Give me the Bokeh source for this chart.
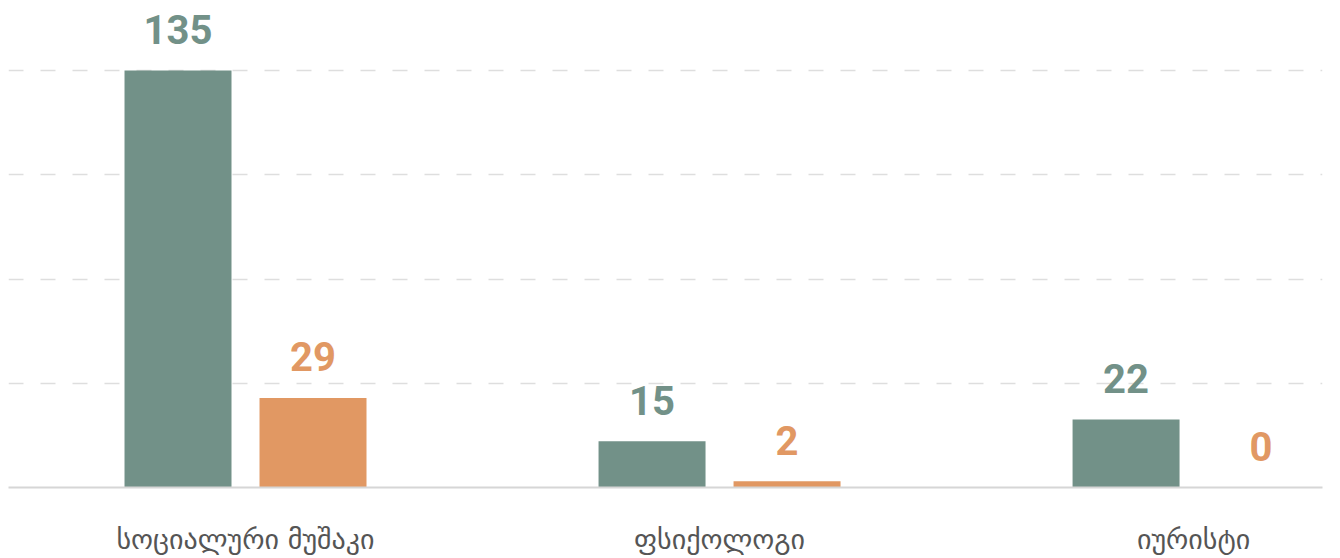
from bokeh.plotting import figure
from bokeh.models import ColumnDataSource, FixedTicker, Range1d
from bokeh.core.properties import value
from bokeh.embed import file_html
from bokeh.resources import INLINE

categories = ["სოციალური მუშაკი", "ფსიქოლოგი", "იურისტი"]
series_a = [135, 15, 22]
series_b = [29, 2, 0]
y_ticks = [33.75, 67.5, 101.25, 135]

GREEN = "#729188"
ORANGE = "#e19863"

xs = list(range(len(categories)))
off = 0.1424
bw = 0.2257

src_a = ColumnDataSource(dict(x=[i - off for i in xs], top=series_a,
                              lbl=[str(v) for v in series_a]))
src_b = ColumnDataSource(dict(x=[i + off for i in xs], top=series_b,
                              lbl=[str(v) for v in series_b]))

p = figure(width=1332, height=558, output_backend="svg", toolbar_location=None,
           x_range=Range1d(-0.5, 2.272), y_range=Range1d(0, 155.1),
           min_border_left=8, min_border_right=10, min_border_top=8, min_border_bottom=0)
p.outline_line_color = None
p.background_fill_color = "white"
p.border_fill_color = "white"

p.vbar(x="x", top="top", width=bw, source=src_a, color=GREEN, line_color=None)
p.vbar(x="x", top="top", width=bw, source=src_b, color=ORANGE, line_color=None)

lbl_font = value("Roboto")
p.text(x="x", y="top", text="lbl", source=src_a, text_align="center",
       text_baseline="alphabetic", y_offset=-41, text_font=lbl_font,
       text_font_style="bold", text_font_size="40px", text_color=GREEN)
p.text(x="x", y="top", text="lbl", source=src_b, text_align="center",
       text_baseline="alphabetic", y_offset=-41, text_font=lbl_font,
       text_font_style="bold", text_font_size="40px", text_color=ORANGE)

p.yaxis.visible = False
p.ygrid.ticker = FixedTicker(ticks=y_ticks)
p.ygrid.grid_line_color = "#dedede"
p.ygrid.grid_line_width = 1.5
p.ygrid.grid_line_dash = "15 17"
p.xgrid.visible = False

p.xaxis.ticker = FixedTicker(ticks=xs)
p.xaxis.major_label_overrides = {i: c for i, c in zip(xs, categories)}
p.xaxis.major_tick_line_color = None
p.xaxis.minor_tick_line_color = None
p.xaxis.axis_line_color = "#d6d6d6"
p.xaxis.axis_line_width = 2
p.xaxis.major_label_text_font = "DejaVu Sans"
p.xaxis.major_label_text_font_size = "28px"
p.xaxis.major_label_text_color = "#555555"
p.xaxis.major_label_standoff = 29

open("out.html", "w").write(file_html(p, INLINE))
